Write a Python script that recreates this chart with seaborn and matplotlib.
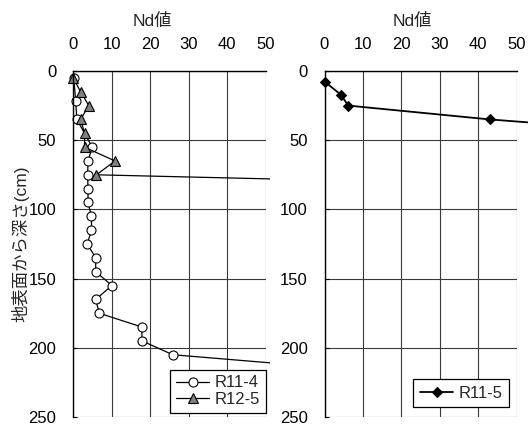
import matplotlib
matplotlib.use("Agg")
import matplotlib.pyplot as plt
import seaborn as sns
import numpy as np
import pandas as pd
from matplotlib.patches import Rectangle

sns.set_theme(style="white")
plt.rcParams['font.family'] = ['Liberation Sans', 'Noto Sans CJK JP', 'DejaVu Sans']

# ---- data ----
r11_4_depth = [5, 22, 35, 55, 65, 75, 85, 95, 105, 115, 125, 135, 145, 155, 165, 175, 185, 195, 205, 215]
r11_4_nd = [0.2, 0.7, 1.0, 5.0, 3.9, 3.8, 3.9, 3.9, 4.8, 4.8, 3.7, 5.9, 5.9, 10.1, 5.9, 6.8, 17.9, 17.9, 25.9, 69]
r12_5_depth = [5, 15, 25, 35, 45, 55, 65, 75, 85]
r12_5_nd = [0.0, 2.0, 4.1, 2.0, 3.0, 3.0, 10.9, 6.1, 158]
r11_5_depth = [8, 17, 25, 35, 45]
r11_5_nd = [0.2, 4.2, 6.2, 43.0, 90]

xticks = [0, 10, 20, 30, 40, 50]
yticks = [0, 50, 100, 150, 200, 250]
title = "Nd値"
ylabel = "地表面から深さ(cm)"

W, H = 528, 428
fig = plt.figure(figsize=(W / 100, H / 100), dpi=100)
fig.patch.set_facecolor("white")

def px_axes(l, r, t, b):
    return fig.add_axes([l / W, 1 - b / H, (r - l) / W, (b - t) / H])

axL = px_axes(73, 265.5, 71, 417)
axR = px_axes(324.5, 516.7, 71, 417)

FS = 12

def style(ax):
    ax.set_xlim(0, 50)
    ax.set_ylim(250, 0)
    ax.set_xticks(xticks)
    ax.set_yticks(yticks)
    ax.xaxis.tick_top()
    ax.tick_params(axis='x', top=True, bottom=False, direction='in', length=0, pad=14, labelsize=FS, colors='black')
    ax.tick_params(axis='y', left=True, direction='in', length=3, width=0.8, pad=12, labelsize=FS, colors='black')
    ax.grid(True, color='#3a3a3a', linewidth=0.8)
    ax.set_axisbelow(True)
    for s in ['left', 'top']:
        ax.spines[s].set_visible(True)
        ax.spines[s].set_color('black')
        ax.spines[s].set_linewidth(1.0)
    ax.spines['bottom'].set_visible(False)
    ax.spines['right'].set_visible(False)
    ax.set_xlabel("")
    ax.set_ylabel("")
    ax.set_facecolor('white')

df1 = pd.DataFrame({"nd": r11_4_nd, "depth": r11_4_depth})
df2 = pd.DataFrame({"nd": r12_5_nd, "depth": r12_5_depth})
df3 = pd.DataFrame({"nd": r11_5_nd, "depth": r11_5_depth})

sns.lineplot(data=df1, x="nd", y="depth", orient="y", sort=False, ax=axL, color='black',
             linewidth=0.9, marker='o', markersize=6.5, markerfacecolor='white',
             markeredgecolor='black', markeredgewidth=0.8, label="R11-4")
sns.lineplot(data=df2, x="nd", y="depth", orient="y", sort=False, ax=axL, color='black',
             linewidth=0.9, marker='^', markersize=7.5, markerfacecolor='#7f7f7f',
             markeredgecolor='black', markeredgewidth=0.8, label="R12-5")
sns.lineplot(data=df3, x="nd", y="depth", orient="y", sort=False, ax=axR, color='black',
             linewidth=1.3, marker='D', markersize=5, markerfacecolor='black',
             markeredgecolor='black', label="R11-5")

style(axL)
style(axR)

# lines extend past plot area up to the chart area edge
clipL = Rectangle((0, 0), 270 / W, 1, transform=fig.transFigure, facecolor='none', edgecolor='none')
fig.add_artist(clipL)
clipL.set_visible(False)
for ln in axL.get_lines():
    ln.set_clip_path(clipL)
clipR = Rectangle((270 / W, 0), 1, 1, transform=fig.transFigure, facecolor='none', edgecolor='none')
fig.add_artist(clipR)
clipR.set_visible(False)
for ln in axR.get_lines():
    ln.set_clip_path(clipR)

legL = axL.legend(loc='lower right', bbox_to_anchor=(1.0, 0.012), frameon=True, fancybox=False,
                  edgecolor='black', framealpha=1, fontsize=FS, handlelength=2.0,
                  borderpad=0.35, labelspacing=0.1, handletextpad=0.3, borderaxespad=0)
legL.get_frame().set_linewidth(0.9)
legR = axR.legend(loc='lower right', bbox_to_anchor=(0.96, 0.028), frameon=True, fancybox=False,
                  edgecolor='black', framealpha=1, fontsize=FS, handlelength=2.0,
                  borderpad=0.4, handletextpad=0.3, borderaxespad=0)
legR.get_frame().set_linewidth(0.9)

fig.text(152 / W, 1 - 21 / H, title, ha='center', va='center', fontsize=12.5)
fig.text(412.5 / W, 1 - 21 / H, title, ha='center', va='center', fontsize=12.5)
fig.text(20 / W, 1 - 244 / H, ylabel, ha='center', va='center', rotation=90, fontsize=12.5)

fig.savefig("out.png", dpi=100, facecolor='white')
